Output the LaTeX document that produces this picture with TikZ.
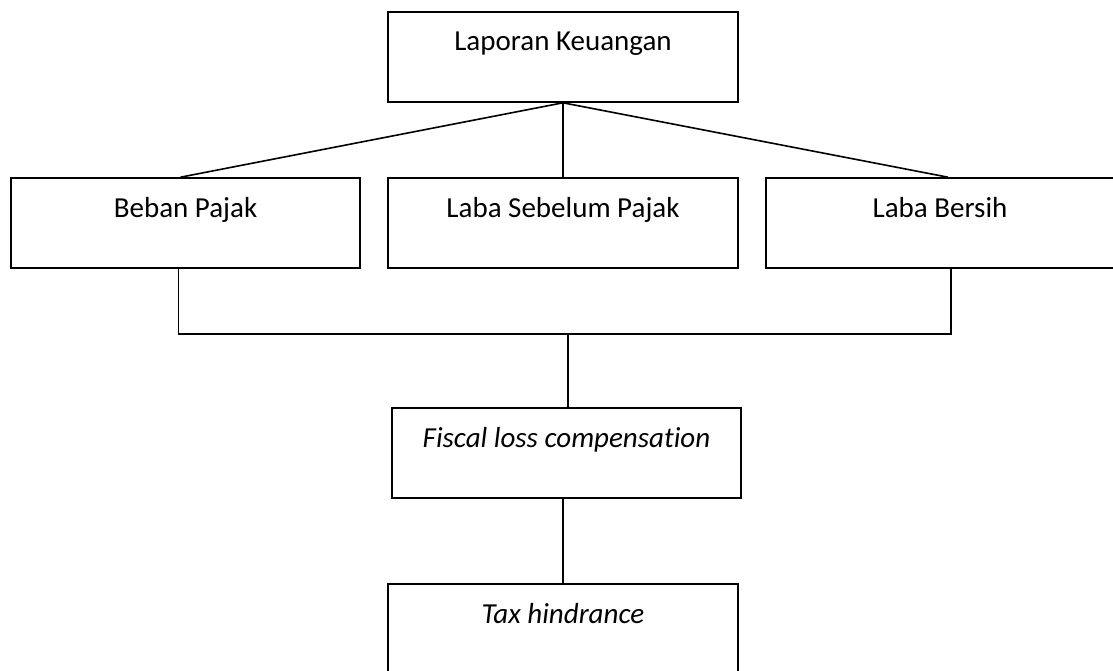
\documentclass[tikz,border=0pt]{standalone}
\usepackage{fontspec}
\setmainfont{Carlito}[Ligatures=NoCommon]
\usepackage{tikz}
\usetikzlibrary{positioning,calc}

\begin{document}
\begin{tikzpicture}[
  x=1pt, y=-1pt,
  kotak/.style={rectangle,draw,line width=1.6pt,inner sep=0pt,
                minimum width=350pt,text height=39pt,text depth=51pt,
                font=\fontsize{29}{35}\selectfont},
  garis/.style={line width=1.6pt}
]
\useasboundingbox (0,0) rectangle (1113,671);
\node[kotak] (lapkeu) at (563, 57)  {Laporan Keuangan};
\node[kotak,minimum width=349pt] (beban) at (185.5,223) {Beban Pajak};
\node[kotak] (lsp)    at (563,223)  {Laba Sebelum Pajak};
\node[kotak,minimum width=348pt] (laba) at (940,223) {Laba Bersih};
\node[kotak,minimum width=349pt] (fiscal) at (566.5,453) {\itshape Fiscal loss compensation};
\node[kotak] (tax)    at (563,629)  {\itshape Tax hindrance};
\coordinate (gabung) at (568,334);
\draw[garis] (lapkeu.south) -- ([xshift=-5pt]beban.north);
\draw[garis] (lapkeu.south) -- (lsp.north);
\draw[garis] (lapkeu.south) -- ([xshift=8pt]laba.north);
\draw[garis] ([xshift=-7pt]beban.south) |- (gabung) -| ([xshift=11pt]laba.south);
\draw[garis] (gabung) -- (gabung |- fiscal.north);
\draw[garis] (tax.north |- fiscal.south) -- (tax.north);
\end{tikzpicture}
\end{document}
